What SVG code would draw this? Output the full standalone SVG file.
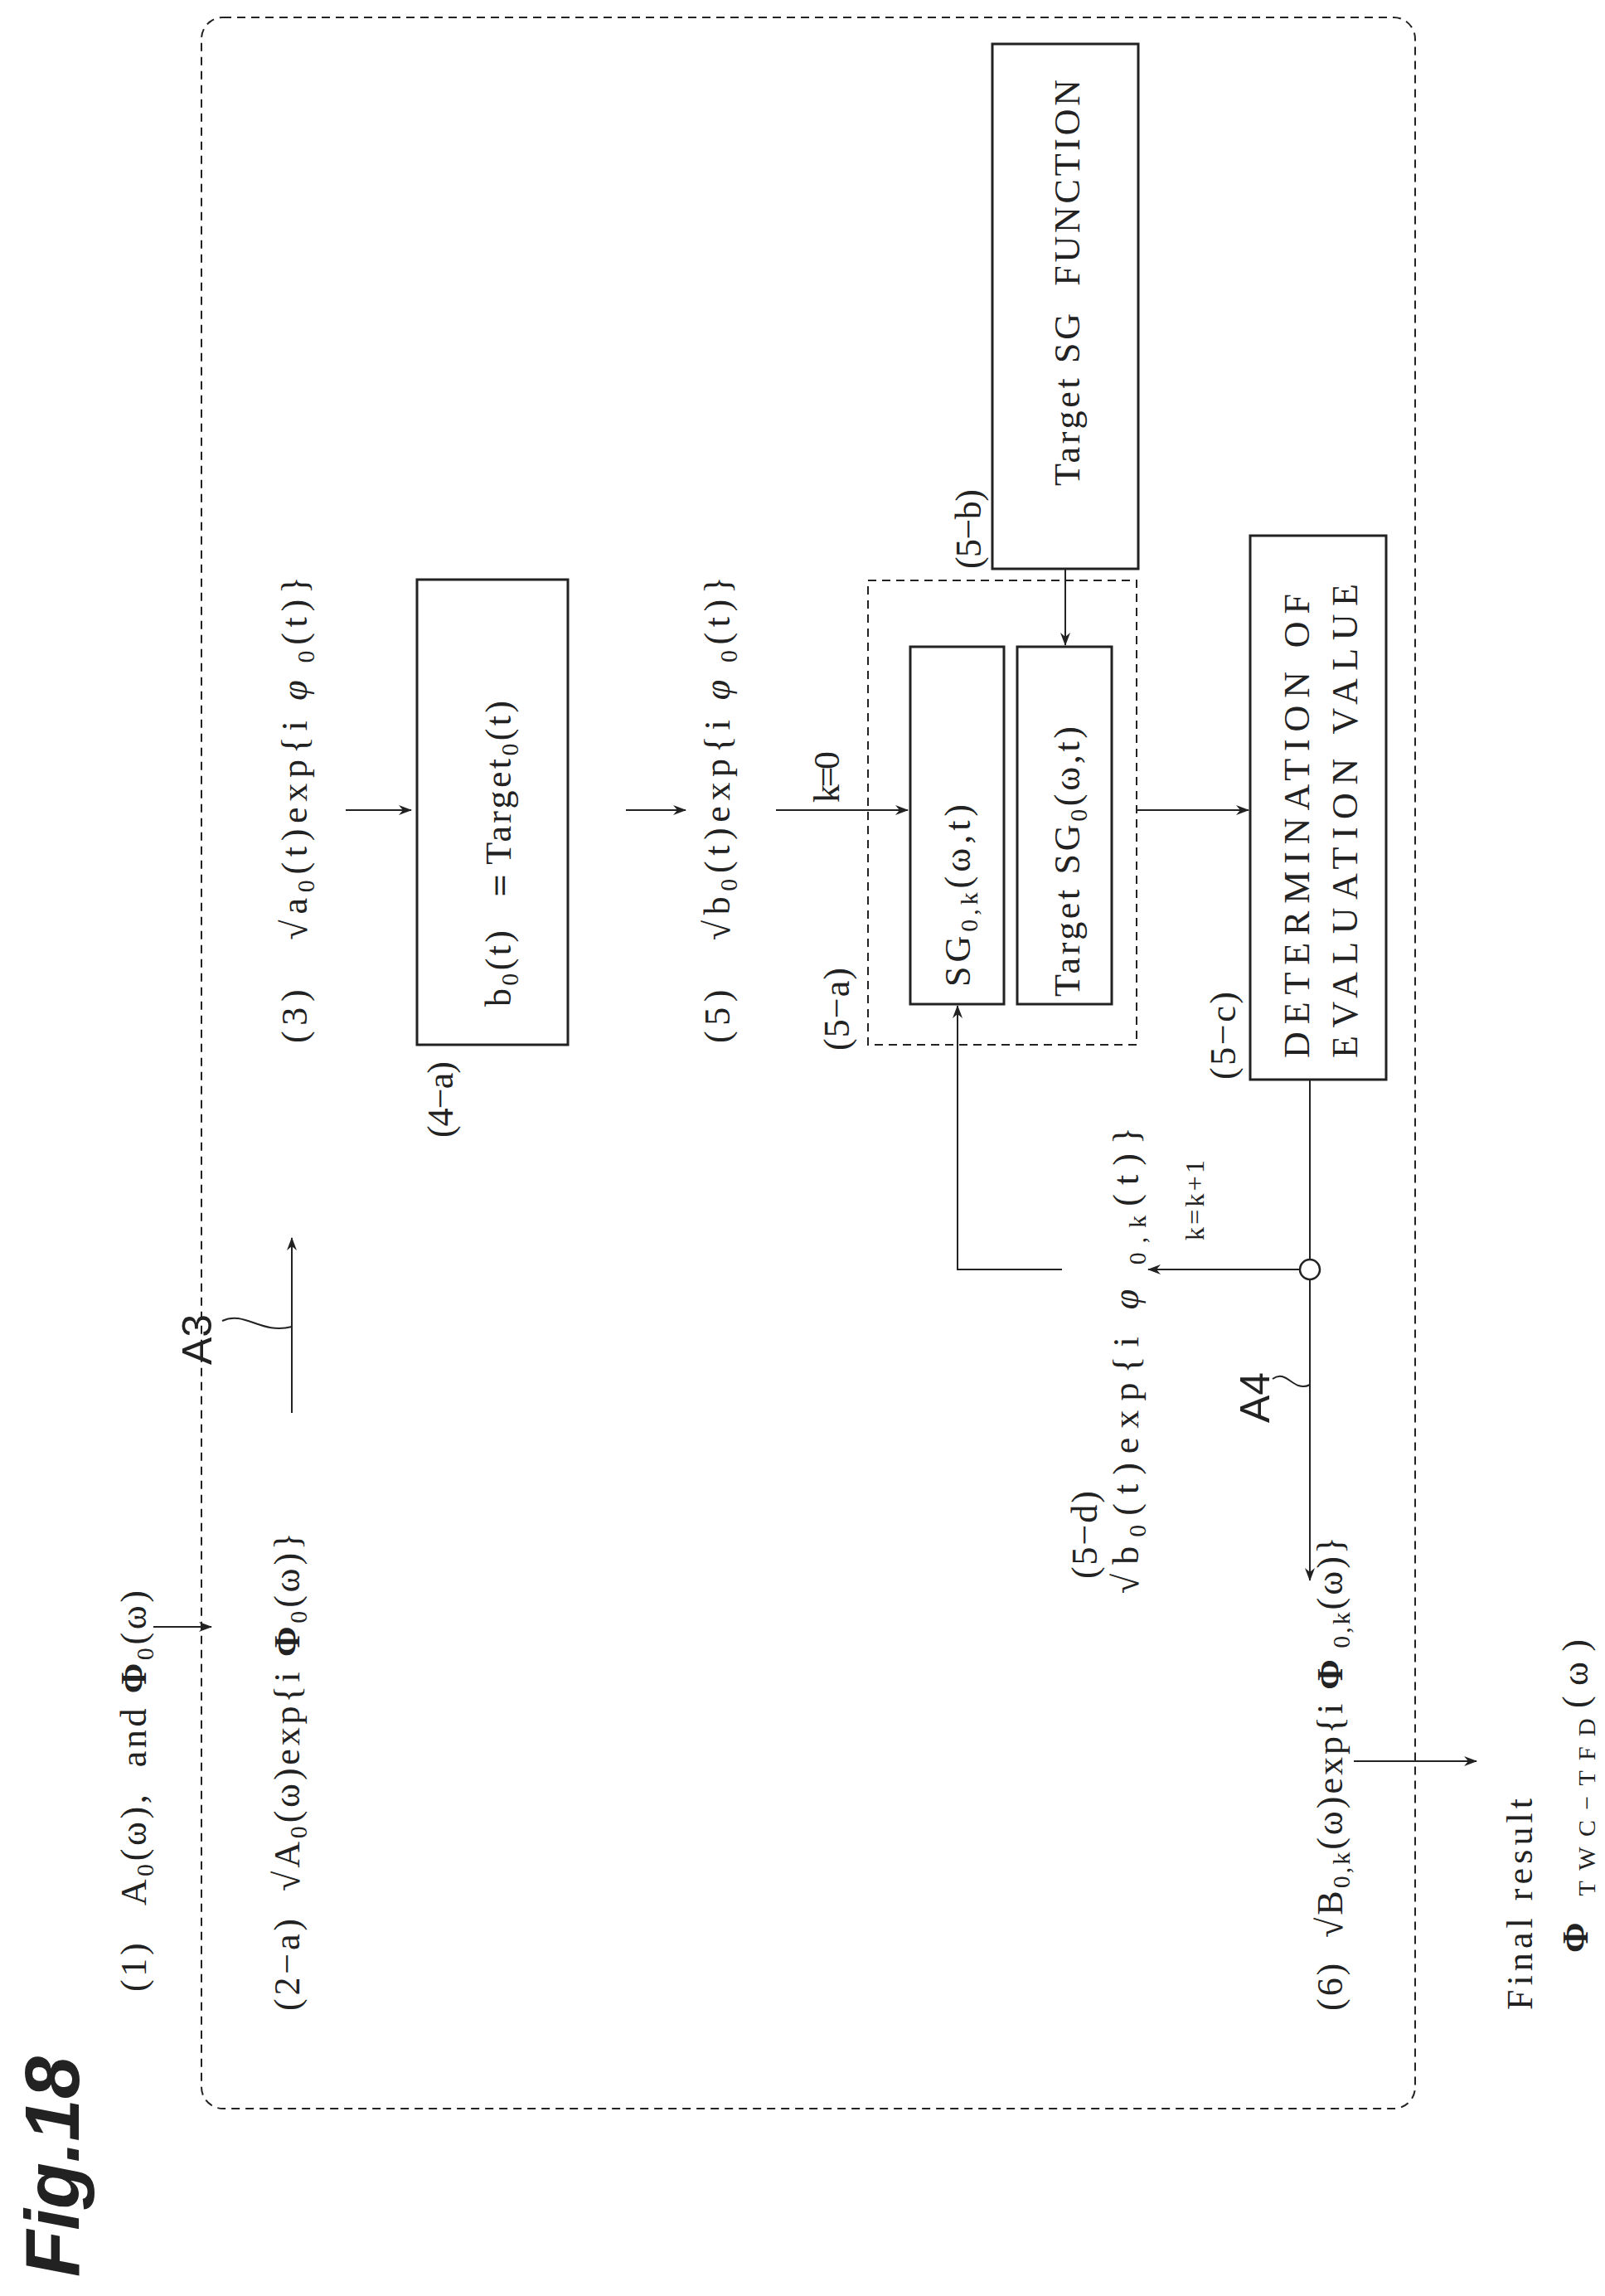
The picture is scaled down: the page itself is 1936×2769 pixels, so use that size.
<svg xmlns="http://www.w3.org/2000/svg" width="1936" height="2769" viewBox="0 0 1936 2769">
<style>
.t{font-family:"Liberation Serif","DejaVu Serif",serif;font-size:44px;fill:#222;white-space:pre}
.s{font-size:30px}
.b{fill:none;stroke:#222;stroke-width:3}
.d{fill:none;stroke:#222;stroke-width:2;stroke-dasharray:10 7}
.c{fill:none;stroke:#222;stroke-width:2}
.lab{font-family:"Liberation Sans",Arial,sans-serif;font-size:50px;fill:#222}
</style>
<defs>
<marker id="ah" markerWidth="16" markerHeight="12" refX="15" refY="6" orient="auto" markerUnits="userSpaceOnUse">
<path d="M0,0 L16,6 L0,12 L5,6 Z" fill="#222"/>
</marker>
</defs>
<rect width="1936" height="2769" fill="#fff"/>
<rect x="243" y="21" width="1464" height="2522" rx="26" class="d"/>
<text class="lab" transform="translate(95,2746) rotate(-90)" style="font-size:92px;font-weight:bold;font-style:italic">Fig.18</text>

<g id="n-sgfunc"><rect x="1197" y="53" width="176" height="633" class="b"/>
<text class="t" transform="translate(1302,586) rotate(-90)" textLength="490" lengthAdjust="spacing">Target SG  FUNCTION</text>
<text class="t" transform="translate(1183,686) rotate(-90)" textLength="96" lengthAdjust="spacing">(5−b)</text></g>

<g id="n-b0"><rect x="503" y="699" width="182" height="561" class="b"/>
<text class="t" transform="translate(616,1214) rotate(-90)" textLength="369" lengthAdjust="spacing">b<tspan class="s" dy="9">0</tspan><tspan dy="-9">(t)  ＝Target</tspan><tspan class="s" dy="9">0</tspan><tspan dy="-9">(t)</tspan></text>
<text class="t" transform="translate(546,1372) rotate(-90)" textLength="92" lengthAdjust="spacing">(4−a)</text></g>

<g id="n-5a"><rect x="1047" y="700" width="324" height="560" class="d"/>
<text class="t" transform="translate(1024,1267) rotate(-90)" textLength="100" lengthAdjust="spacing">(5−a)</text></g>
<g id="n-sg0k"><rect x="1098" y="780" width="113" height="431" class="b"/>
<text class="t" transform="translate(1170,1190) rotate(-90)" textLength="220" lengthAdjust="spacing">SG<tspan class="s" dy="9">0,k</tspan><tspan dy="-9">(ω,t)</tspan></text></g>
<g id="n-tsg0"><rect x="1227" y="780" width="114" height="431" class="b"/>
<text class="t" transform="translate(1302,1202) rotate(-90)" textLength="326" lengthAdjust="spacing">Target SG<tspan class="s" dy="9">0</tspan><tspan dy="-9">(ω,t)</tspan></text></g>

<g id="n-det"><rect x="1508" y="646" width="164" height="656" class="b"/>
<text class="t" transform="translate(1579,1276) rotate(-90)" textLength="560" lengthAdjust="spacing">DETERMINATION OF</text>
<text class="t" transform="translate(1637,1276) rotate(-90)" textLength="572" lengthAdjust="spacing">EVALUATION VALUE</text>
<text class="t" transform="translate(1490,1302) rotate(-90)" textLength="106" lengthAdjust="spacing">(5−c)</text></g>

<g id="labels">
<text class="t" transform="translate(176,2402) rotate(-90)" textLength="484" lengthAdjust="spacing">(1)   A<tspan class="s" dy="9">0</tspan><tspan dy="-9">(ω),  and </tspan><tspan font-weight="bold">Φ</tspan><tspan class="s" dy="9">0</tspan><tspan dy="-9">(ω)</tspan></text>
<text class="t" transform="translate(361,2425) rotate(-90)" textLength="577" lengthAdjust="spacing">(2−a)  √A<tspan class="s" dy="9">0</tspan><tspan dy="-9">(ω)exp{i </tspan><tspan font-weight="bold">Φ</tspan><tspan class="s" dy="9">0</tspan><tspan dy="-9">(ω)}</tspan></text>
<text class="t" transform="translate(370,1258) rotate(-90)" textLength="563" lengthAdjust="spacing">(3)   √a<tspan class="s" dy="9">0</tspan><tspan dy="-9">(t)exp{i </tspan><tspan font-style="italic">φ</tspan><tspan class="s" dy="9"> 0</tspan><tspan dy="-9">(t)}</tspan></text>
<text class="t" transform="translate(880,1258) rotate(-90)" textLength="563" lengthAdjust="spacing">(5)   √b<tspan class="s" dy="9">0</tspan><tspan dy="-9">(t)exp{i </tspan><tspan font-style="italic">φ</tspan><tspan class="s" dy="9"> 0</tspan><tspan dy="-9">(t)}</tspan></text>
<text class="t" transform="translate(1012,968) rotate(-90)" textLength="62" lengthAdjust="spacing">k=0</text>
<text class="t" transform="translate(1323,1904) rotate(-90)" textLength="106" lengthAdjust="spacing">(5−d)</text>
<text class="t" transform="translate(1373,1922) rotate(-90)" textLength="563" lengthAdjust="spacing">√b<tspan class="s" dy="9">0</tspan><tspan dy="-9">(t)exp{i </tspan><tspan font-style="italic">φ</tspan><tspan class="s" dy="9"> 0,k</tspan><tspan dy="-9">(t)}</tspan></text>
<text class="t" transform="translate(1452,1496) rotate(-90)" style="font-size:32px" textLength="97" lengthAdjust="spacing">k=k+1</text>
<text class="t" transform="translate(1619,2425) rotate(-90)" textLength="572" lengthAdjust="spacing">(6)  √B<tspan class="s" dy="9">0,k</tspan><tspan dy="-9">(ω)exp{i </tspan><tspan font-weight="bold">Φ</tspan><tspan class="s" dy="9"> 0,k</tspan><tspan dy="-9">(ω)}</tspan></text>
<text class="t" transform="translate(1848,2424) rotate(-90)" textLength="255" lengthAdjust="spacing">Final result</text>
<text class="t" transform="translate(1915,2355) rotate(-90)" textLength="378" lengthAdjust="spacing"><tspan font-weight="bold">Φ</tspan><tspan class="s" dy="9"> TWC−TFD</tspan><tspan dy="-9">(ω)</tspan></text>
<text class="lab" transform="translate(255,1646) rotate(-90)">A3</text>
<text class="lab" transform="translate(1531,1716) rotate(-90)">A4</text>
</g>

<g id="connectors">
<line x1="185" y1="1962" x2="255" y2="1962" class="c" marker-end="url(#ah)"/>
<line x1="352" y1="1704" x2="352" y2="1493" class="c" marker-end="url(#ah)"/>
<path d="M268,1593 C295,1580 315,1610 352,1600" class="c"/>
<line x1="417" y1="977" x2="496" y2="977" class="c" marker-end="url(#ah)"/>
<line x1="755" y1="977" x2="827" y2="977" class="c" marker-end="url(#ah)"/>
<line x1="936" y1="977" x2="1095" y2="977" class="c" marker-end="url(#ah)"/>
<line x1="1285" y1="686" x2="1285" y2="778" class="c" marker-end="url(#ah)"/>
<line x1="1371" y1="977" x2="1506" y2="977" class="c" marker-end="url(#ah)"/>
<line x1="1580" y1="1302" x2="1580" y2="1519" class="c"/>
<line x1="1580" y1="1543" x2="1580" y2="1906" class="c" marker-end="url(#ah)"/>
<circle cx="1580" cy="1531" r="12" fill="#fff" stroke="#222" stroke-width="2.5"/>
<line x1="1568" y1="1531" x2="1385" y2="1531" class="c" marker-end="url(#ah)"/>
<polyline points="1281,1531 1155,1531 1155,1213" class="c" marker-end="url(#ah)"/>
<path d="M1535,1663 C1552,1650 1560,1680 1580,1670" class="c"/>
<line x1="1633" y1="2124" x2="1781" y2="2124" class="c" marker-end="url(#ah)"/>
</g>
</svg>
